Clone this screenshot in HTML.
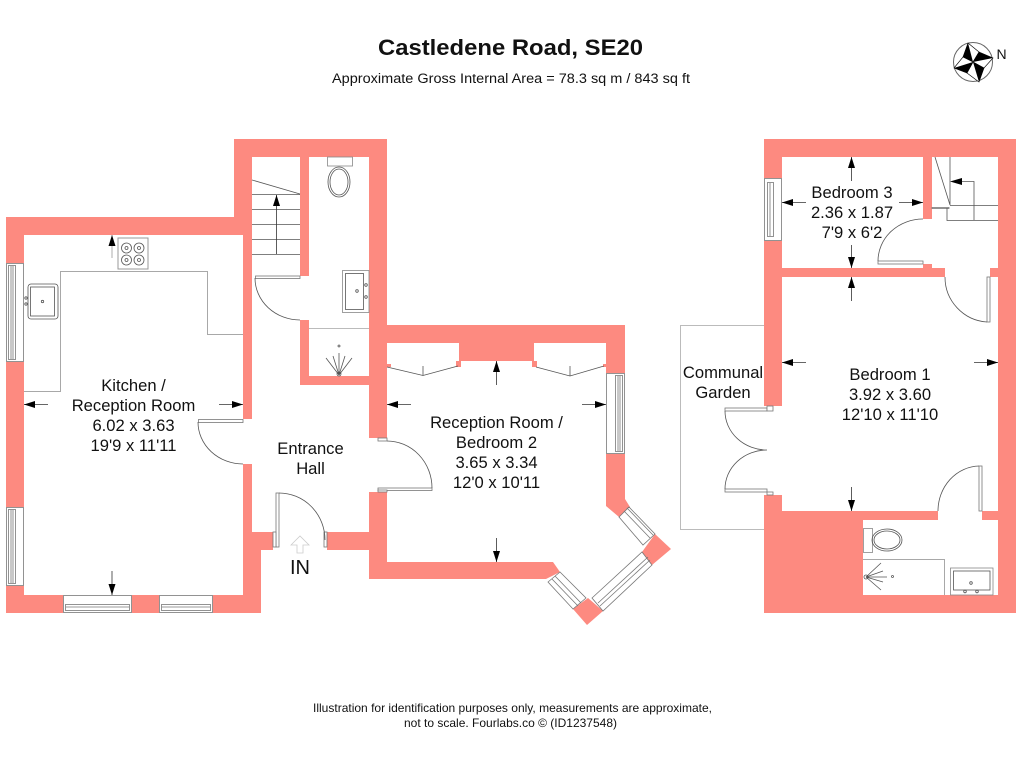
<!DOCTYPE html>
<html><head><meta charset="utf-8"><style>
html,body{margin:0;padding:0;background:#fff;width:1024px;height:768px;overflow:hidden}
svg{display:block}
text{font-family:"Liberation Sans",sans-serif;fill:#111;text-anchor:middle;font-size:16.6px}
.w{fill:#fd8a80}
.g{fill:none;stroke:#a8a8a8;stroke-width:1}
.d{fill:none;stroke:#555;stroke-width:.8}
.l{fill:#fff;stroke:#777;stroke-width:.8}
.a{stroke:#333;stroke-width:.8;fill:none;marker-end:url(#h)}
</style></head><body>
<svg width="1024" height="768" viewBox="0 0 1024 768" xmlns="http://www.w3.org/2000/svg">
<defs><marker id="h" markerUnits="userSpaceOnUse" markerWidth="12" markerHeight="8" refX="11" refY="3.5" orient="auto"><path d="M0 0L11 3.5L0 7Z" fill="#000"/></marker></defs>
<rect width="1024" height="768" fill="#fff"/>

<!-- garden -->
<path d="M764 325.500H680.500V529.500H764" fill="none" stroke="#bbb"/>

<!-- ground walls -->
<g class="w">
<rect x="6" y="217" width="246" height="18"/><rect x="234" y="139" width="18" height="96"/><rect x="234" y="139" width="153" height="18"/>
<rect x="6" y="217" width="18" height="46"/><rect x="6" y="362" width="18" height="145"/><rect x="6" y="586" width="18" height="27"/>
<rect x="6" y="595" width="57" height="18"/><rect x="132" y="595" width="27" height="18"/><rect x="213" y="595" width="48" height="18"/>
<rect x="243" y="235" width="9" height="184"/><rect x="243" y="464" width="9" height="70"/><rect x="243" y="532" width="18" height="81"/><rect x="243" y="532" width="30" height="18"/>
<rect x="327" y="532" width="42" height="18"/>
<rect x="300" y="157" width="9" height="119"/><rect x="300" y="320" width="9" height="65"/><rect x="300" y="376" width="69" height="9"/>
<rect x="369" y="139" width="18" height="299"/><rect x="369" y="492" width="18" height="87"/>
<rect x="369" y="325" width="256" height="18"/><rect x="459" y="343" width="75" height="18"/><rect x="606" y="343" width="19" height="30"/>
<polygon points="606,454 625,454 625,499 630,507 619,517 606,506"/>
<polygon points="369,562 553,562 560,572 546,579 369,579"/>
<polygon points="573,609 587,625 603,611 588,598"/>
<polygon points="642,552 655,534 671,549 652,565"/>
<rect x="387" y="364" width="4" height="3"/><rect x="456" y="361" width="5" height="6"/><rect x="532" y="361" width="5" height="6"/><rect x="603" y="364" width="3" height="3"/>
</g>

<!-- upper walls -->
<g class="w">
<rect x="764" y="139" width="252" height="18"/><rect x="764" y="139" width="18" height="39"/><rect x="764" y="241" width="18" height="165"/>
<rect x="998" y="139" width="18" height="474"/>
<rect x="923" y="157" width="9" height="62"/><rect x="923" y="264" width="9" height="5"/>
<rect x="782" y="268" width="163" height="9"/><rect x="990" y="268" width="8" height="9"/>
<polygon points="764,495 782,495 782,511 938,511 938,520 863,520 863,595 998,595 998,613 764,613"/>
<rect x="982" y="511" width="16" height="9"/>
</g>

<!-- windows -->
<g class="l">
<rect x="6.500" y="263.500" width="17" height="98"/><rect x="8.500" y="265.500" width="7" height="94"/><line x1="11" y1="266" x2="11" y2="359"/><line x1="13" y1="266" x2="13" y2="359"/>
<rect x="6.500" y="507.500" width="17" height="78"/><rect x="8.500" y="509.500" width="7" height="74"/><line x1="11" y1="510" x2="11" y2="583"/><line x1="13" y1="510" x2="13" y2="583"/>
<rect x="63.500" y="595.500" width="68" height="17"/><rect x="65.500" y="604.500" width="64" height="6"/><line x1="66" y1="607" x2="129" y2="607"/>
<rect x="159.500" y="595.500" width="53" height="17"/><rect x="161.500" y="604.500" width="49" height="6"/><line x1="162" y1="607" x2="210" y2="607"/>
<rect x="606.500" y="373.500" width="18" height="80"/><rect x="615.500" y="375.500" width="7" height="76"/><line x1="618" y1="376" x2="618" y2="451"/><line x1="620" y1="376" x2="620" y2="451"/>
<polygon points="548,582 560,572 586,598 573,609"/><line x1="552" y1="579" x2="578" y2="606"/><line x1="555" y1="576" x2="581" y2="603"/>
<polygon points="592,598 642,552 652,565 603,611"/><line x1="598" y1="603" x2="648" y2="557"/><line x1="600" y1="606" x2="650" y2="560"/>
<polygon points="619,517 629,507 655,534 643,545"/><line x1="624" y1="511" x2="650" y2="538"/><line x1="627" y1="508" x2="653" y2="535"/>
<rect x="764.500" y="178.500" width="17" height="62"/><rect x="767.500" y="182.500" width="6" height="54"/><line x1="770" y1="183" x2="770" y2="236"/>
</g>

<!-- kitchen -->
<path class="g" d="M24 391.500H60.500V271.500H207.500V334.500H243"/>
<rect x="118" y="238" width="30" height="31" fill="#fff" stroke="#999"/>
<g class="d"><circle cx="126.500" cy="248" r="5"/><circle cx="139" cy="248" r="5"/><circle cx="126.500" cy="260" r="5"/><circle cx="139" cy="260" r="5"/><circle cx="126.500" cy="248" r="1.500"/><circle cx="139" cy="248" r="1.500"/><circle cx="126.500" cy="260" r="1.500"/><circle cx="139" cy="260" r="1.500"/>
<rect x="28" y="284" width="30" height="35" rx="3"/><rect x="30.500" y="287" width="24" height="29"/><circle cx="42.500" cy="301.500" r="1.200"/><circle cx="26" cy="298" r="1.200"/><circle cx="26" cy="304" r="1.200"/></g>

<!-- stairs ground -->
<path class="d" d="M252 180L300 194M252 194.500H300M252 209.500H300M252 224.500H300M252 239.500H300M252 254.500H300"/>

<!-- toilet, basin, shower ground -->
<rect x="327.500" y="157" width="25" height="9" fill="#fff" stroke="#888" stroke-width=".8"/>
<g class="d"><ellipse cx="339" cy="182" rx="11" ry="15"/><ellipse cx="339" cy="182" rx="9" ry="13"/>
<rect x="342.500" y="270.500" width="26.500" height="42" stroke="#888"/><rect x="345.500" y="273.500" width="18" height="36"/><circle cx="357" cy="291" r="1.300"/><circle cx="366" cy="285" r="1.300"/><circle cx="366" cy="297" r="1.300"/>
<path d="M339 375L326 358M339 375L333 356M339 375V353M339 375L345 356M339 375L352 358"/><circle cx="339" cy="346" r="1"/><circle cx="339" cy="374" r="2"/></g>
<line x1="309" y1="328.500" x2="369" y2="328.500" stroke="#bbb"/>

<!-- wardrobes -->
<path class="d" d="M387 367L423 375.500L458 366M423 366V375.500M536 367L570 376L604 366M570 366V376"/>

<!-- doors -->
<g class="l">
<rect x="198.500" y="419.500" width="44.500" height="3"/>
<rect x="255.500" y="276" width="44.500" height="2.500"/>
<rect x="276" y="493" width="3" height="54"/><rect x="273" y="532" width="3" height="15"/><rect x="324" y="532" width="3" height="15"/>
<rect x="378" y="438" width="9" height="3"/><rect x="378" y="488" width="54" height="2.500"/><rect x="378" y="490" width="9" height="2"/>
<rect x="878" y="261" width="45" height="3"/>
<rect x="987" y="277" width="3" height="45"/>
<rect x="725" y="408" width="42" height="3"/><rect x="767" y="406" width="6" height="5"/>
<rect x="725" y="489" width="42" height="3"/><rect x="767" y="492" width="6" height="3"/>
<rect x="979" y="466" width="3" height="45"/>
<rect x="932" y="207.500" width="17" height="1"/>
</g>
<path class="d" d="M198 422A45 42 0 0 0 243 464M255 278A45 42 0 0 0 300 320M279 493A46 47 0 0 1 325 540M387 441A45 47 0 0 1 432 488M878 261A45 42 0 0 1 923 219M945 277A45 45 0 0 0 987 322M725 411A42 39 0 0 0 767 450M725 489A42 39 0 0 1 767 450M979 466A42 45 0 0 0 938 511"/>

<!-- upper stairs -->
<path class="d" d="M935 157L950 205V157M950 205.500H998M947 208V220.500H998M974 220V181.500H962"/>
<path d="M950 181.500L962 178V185Z" fill="#000"/>

<!-- bathroom -->
<rect x="863.500" y="528.500" width="9" height="24" fill="#fff" stroke="#888" stroke-width=".8"/>
<g class="d"><ellipse cx="887" cy="540" rx="15" ry="11"/><ellipse cx="887" cy="540" rx="13" ry="9"/>
<path d="M866 577L881 563M866 577L883 571M866 577H887M866 577L883 582M866 577L881 590"/><circle cx="892.500" cy="576.500" r="1"/><circle cx="866" cy="577" r="2"/>
<rect x="950.500" y="568" width="42.500" height="27" stroke="#888"/><rect x="953.500" y="571" width="36.500" height="19"/><circle cx="971" cy="583" r="1.300"/><circle cx="965" cy="591.500" r="1.300"/><circle cx="977" cy="591.500" r="1.300"/></g>
<path class="g" d="M863 559.500H944.500V595"/>

<!-- arrows -->
<g>
<line class="a" x1="48" y1="404.500" x2="24" y2="404.500"/><line class="a" x1="219" y1="404.500" x2="243" y2="404.500"/>
<line class="a" x1="112" y1="258" x2="112" y2="235" style="stroke:#999"/><line class="a" x1="112" y1="571" x2="112" y2="595"/>
<line class="a" x1="276.500" y1="254" x2="276.500" y2="195"/>
<line class="a" x1="496.500" y1="385" x2="496.500" y2="361"/><line class="a" x1="411" y1="404.500" x2="387" y2="404.500"/><line class="a" x1="582" y1="404.500" x2="606" y2="404.500"/><line class="a" x1="496.500" y1="538" x2="496.500" y2="562"/>
<line class="a" x1="851.500" y1="181" x2="851.500" y2="157"/><line class="a" x1="851.500" y1="245" x2="851.500" y2="268"/><line class="a" x1="806" y1="202.500" x2="782" y2="202.500"/><line class="a" x1="899" y1="202.500" x2="923" y2="202.500"/>
<line class="a" x1="851.500" y1="301" x2="851.500" y2="277"/>
<line class="a" x1="806" y1="362.500" x2="782" y2="362.500"/><line class="a" x1="974" y1="362.500" x2="998" y2="362.500"/><line class="a" x1="851.500" y1="487" x2="851.500" y2="511"/>
</g>
<path d="M291 545L300 536L309 545H303V553H297V545Z" fill="#fff" stroke="#ccc" stroke-width=".8"/>

<!-- compass -->
<circle cx="973" cy="62" r="19.500" fill="#fff" stroke="#666"/>
<polygon points="968,43 979,52 973,62 963,57" fill="#fff" stroke="#000" stroke-width=".6"/>
<polygon points="968,43 973,62 963,57" fill="#000"/>
<polygon points="993,58 984,68 973,62 979,52" fill="#fff" stroke="#000" stroke-width=".6"/>
<polygon points="993,58 973,62 979,52" fill="#000"/>
<polygon points="979,82 967,73 973,62 984,68" fill="#fff" stroke="#000" stroke-width=".6"/>
<polygon points="979,82 973,62 984,68" fill="#000"/>
<polygon points="954,68 963,57 973,62 967,73" fill="#fff" stroke="#000" stroke-width=".6"/>
<polygon points="954,68 973,62 967,73" fill="#000"/>
<text x="1001.500" y="59" style="font-size:14px">N</text>

<!-- text -->
<text x="510.500" y="55" style="font-size:22px;font-weight:bold" textLength="265" lengthAdjust="spacingAndGlyphs">Castledene Road, SE20</text>
<text x="511" y="83" style="font-size:13.500px" textLength="358" lengthAdjust="spacingAndGlyphs">Approximate Gross Internal Area = 78.3 sq m / 843 sq ft</text>
<text x="133.500" y="391">Kitchen /</text><text x="133.500" y="411">Reception Room</text><text x="133.500" y="431">6.02 x 3.63</text><text x="133.500" y="451">19'9 x 11'11</text>
<text x="310.500" y="454">Entrance</text><text x="310.500" y="474">Hall</text>
<text x="300" y="574" style="font-size:20px">IN</text>
<text x="496.500" y="428">Reception Room /</text><text x="496.500" y="448">Bedroom 2</text><text x="496.500" y="468">3.65 x 3.34</text><text x="496.500" y="488">12'0 x 10'11</text>
<text x="852" y="198">Bedroom 3</text><text x="852" y="218">2.36 x 1.87</text><text x="852" y="238">7'9 x 6'2</text>
<text x="890" y="380">Bedroom 1</text><text x="890" y="400">3.92 x 3.60</text><text x="890" y="420">12'10 x 11'10</text>
<text x="723" y="378">Communal</text><text x="723" y="398">Garden</text>
<text x="512.500" y="712" style="font-size:12px" textLength="399" lengthAdjust="spacingAndGlyphs">Illustration for identification purposes only, measurements are approximate,</text>
<text x="510.500" y="727" style="font-size:12px" textLength="213" lengthAdjust="spacingAndGlyphs">not to scale. Fourlabs.co © (ID1237548)</text>
</svg>
</body></html>
